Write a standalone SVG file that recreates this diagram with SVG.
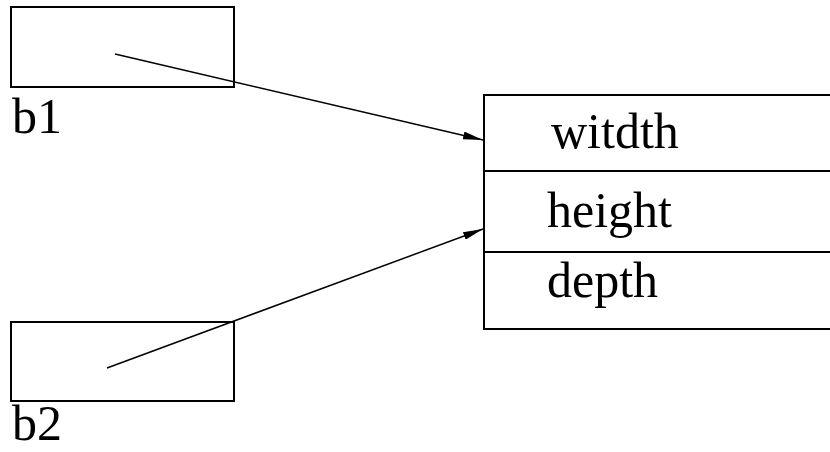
<svg xmlns="http://www.w3.org/2000/svg" width="830" height="452" viewBox="0 0 830 452">
<style>
.box{fill:none;stroke:#000;stroke-width:2}
.lbl{font-size:50px;fill:#000}
.edge{stroke:#000;stroke-width:1.5;fill:none}
</style>
<defs>
<marker id="ah" viewBox="0 0 20 8" refX="20" refY="4" markerWidth="20" markerHeight="8" markerUnits="userSpaceOnUse" orient="auto">
<path d="M0,0 L20,4 L0,8 Z" fill="#000"/>
</marker>
</defs>
<rect width="830" height="452" fill="#fff"/>
<g font-family="'Liberation Serif', 'DejaVu Serif', 'Times New Roman', serif">
<g id="b1">
<rect class="box" x="11" y="7" width="223" height="80"/>
<text class="lbl" x="12" y="133">b1</text>
</g>
<g id="b2">
<rect class="box" x="11" y="322" width="223" height="79"/>
<text class="lbl" x="12" y="440">b2</text>
</g>
<g id="struct">
<rect class="box" x="484" y="95" width="350" height="234"/>
<line class="box" x1="484" y1="171" x2="830" y2="171"/>
<line class="box" x1="484" y1="252" x2="830" y2="252"/>
<text class="lbl" x="551" y="148">witdth</text>
<text class="lbl" x="547" y="227">height</text>
<text class="lbl" x="547" y="297">depth</text>
</g>
</g>
<g id="connectors">
<line class="edge" x1="115" y1="54" x2="483" y2="140" marker-end="url(#ah)"/>
<line class="edge" x1="107" y1="368" x2="483" y2="229" marker-end="url(#ah)"/>
</g>
</svg>
